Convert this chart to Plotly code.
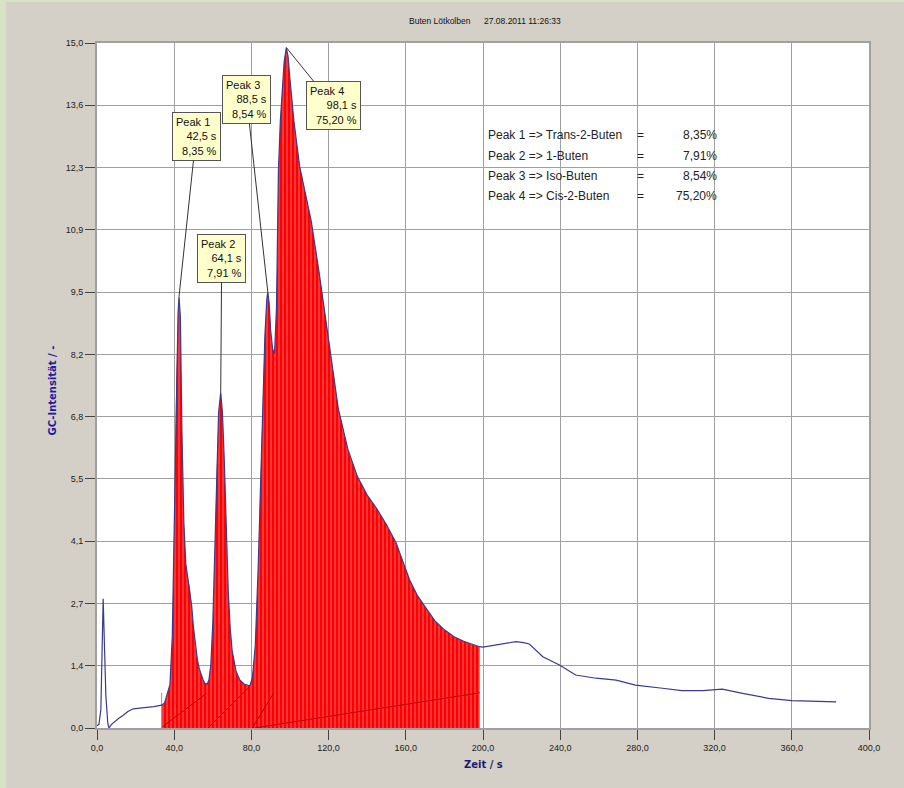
import numpy as np
import plotly.graph_objects as go

# ---------------- data ----------------
time_s = [0, 1.0, 2.0, 2.6, 3.2, 3.8, 4.6, 5.6, 6.2, 7.5, 9.3, 11.5, 13.6, 16, 18.8, 22, 25.7,
          29.5, 32, 33.5, 35, 36.5, 37.8, 39, 40, 41, 42, 42.5, 43.2, 44, 45, 46, 47, 48, 49,
          50, 51, 52, 53, 54, 55, 56, 57, 58, 59, 60, 61, 62, 63, 64.1, 65, 66, 67, 68, 69,
          70, 72, 74, 76, 78, 79.2, 80.5, 82, 83.5, 85, 86, 87, 88, 88.5, 89.2, 90, 91, 92,
          93, 94, 95, 96, 97, 98.1, 99, 100, 102, 105, 108, 111, 115, 119.6, 125, 130, 135,
          140, 145, 150, 155, 158, 162, 166, 170, 175, 180, 185, 190, 195, 198.3, 200, 207,
          212, 217, 221, 224, 231, 239.6, 248, 258.6, 269, 279, 293, 303, 314, 324, 334.5,
          348, 360, 372, 383]
intensity = [0.05, 0.08, 0.4, 1.8, 2.83, 1.9, 0.7, 0.1, 0.0, 0.08, 0.15, 0.22, 0.28, 0.36, 0.42,
             0.44, 0.45, 0.47, 0.48, 0.5, 0.55, 0.75, 0.95, 2.0, 4.5, 7.5, 9.1, 9.45, 9.0, 6.5,
             4.5, 3.6, 3.3, 3.1, 2.7, 2.2, 1.8, 1.5, 1.3, 1.15, 1.05, 0.98, 0.96, 1.05, 1.4, 2.3,
             3.8, 5.6, 6.9, 7.35, 6.9, 5.8, 4.3, 3.0, 2.2, 1.7, 1.25, 1.05, 0.97, 0.93, 0.92,
             1.1, 1.8, 3.5, 5.8, 7.3, 8.6, 9.4, 9.55, 9.3, 8.7, 8.3, 8.2, 9.2, 12.2, 13.3, 14.0,
             14.6, 14.9, 14.7, 14.2, 13.3, 12.3, 11.7, 11.1, 10.0, 8.65, 7.0, 6.1, 5.5, 5.1,
             4.8, 4.45, 4.05, 3.7, 3.24, 2.9, 2.65, 2.35, 2.15, 2.0, 1.9, 1.82, 1.78, 1.77,
             1.82, 1.87, 1.89, 1.87, 1.84, 1.56, 1.38, 1.16, 1.09, 1.05, 0.94, 0.87, 0.82,
             0.82, 0.85, 0.76, 0.65, 0.6, 0.58, 0.57]

integration_start = 33.5
integration_end = 198.3
integration_marker_height = 0.77

peak_names = ["Peak 1", "Peak 2", "Peak 3", "Peak 4"]
peak_times = [42.5, 64.1, 88.5, 98.1]
peak_heights = [9.45, 7.35, 9.55, 14.9]
peak_time_labels = ["42,5 s", "64,1 s", "88,5 s", "98,1 s"]
peak_percent_labels = ["8,35 %", "7,91 %", "8,54 %", "75,20 %"]
components = ["Trans-2-Buten", "1-Buten", "Iso-Buten", "Cis-2-Buten"]
component_percent = ["8,35%", "7,91%", "8,54%", "75,20%"]

baseline_x = [[34.0, 56.8], [57.5, 79.0], [80.5, 91.6], [81.6, 198.2]]
baseline_y = [[0.03, 0.76], [0.0, 0.9], [0.0, 0.77], [0.0, 0.77]]

x_tick_vals = [0, 40, 80, 120, 160, 200, 240, 280, 320, 360, 400]
x_tick_text = ["0,0", "40,0", "80,0", "120,0", "160,0", "200,0", "240,0", "280,0", "320,0",
               "360,0", "400,0"]
y_tick_vals = [0, 1.364, 2.727, 4.091, 5.455, 6.818, 8.182, 9.545, 10.909, 12.273, 13.636, 15.0]
y_tick_text = ["0,0", "1,4", "2,7", "4,1", "5,5", "6,8", "8,2", "9,5", "10,9", "12,3", "13,6",
               "15,0"]

chart_title = "Buten Lötkolben"
chart_timestamp = "27.08.2011 11:26:33"

# ---------------- figure ----------------
t = np.array(time_s)
v = np.array(intensity)
mask = (t >= integration_start) & (t <= integration_end)

fig = go.Figure()

# red integrated area with vertical stripes
fig.add_trace(go.Scatter(
    x=t[mask], y=v[mask], mode="none", fill="tozeroy",
    fillcolor="#ff0000",
    fillpattern=dict(shape="|", bgcolor="#ff0000", fgcolor="#f4b0b0", size=4, solidity=0.3),
    hoverinfo="skip", showlegend=False))

# integration start marker
fig.add_trace(go.Scatter(
    x=[integration_start, integration_start], y=[0, integration_marker_height],
    mode="lines", line=dict(color="#c08080", width=1), showlegend=False, hoverinfo="skip"))

# baselines
for bx, by in zip(baseline_x, baseline_y):
    fig.add_trace(go.Scatter(x=bx, y=by, mode="lines", line=dict(color="#b00000", width=1),
                             showlegend=False, hoverinfo="skip"))

# chromatogram line
fig.add_trace(go.Scatter(x=time_s, y=intensity, mode="lines",
                         line=dict(color="#3a3a8e", width=1.2), showlegend=False))

ann_font = dict(family="Liberation Sans, Arial, sans-serif", size=11, color="#111111")
box_offsets = [(17, -160), (1, -134), (-21, -192), (47, 58)]
annotations = []
for name, pt, ph, tl, pl, (ax, ay) in zip(peak_names, peak_times, peak_heights,
                                         peak_time_labels, peak_percent_labels, box_offsets):
    pad = "&nbsp;" * (2 if len(pl) < 7 else 4)
    annotations.append(dict(
        x=pt, y=ph, xref="x", yref="y", ax=ax, ay=ay, axref="pixel", ayref="pixel",
        text=f"{name}{pad}<br>{tl}<br>{pl}", align="right", showarrow=True,
        arrowhead=0, arrowwidth=1, arrowcolor="#333333", standoff=0,
        bgcolor="#ffffcc", bordercolor="#555555", borderwidth=1, borderpad=3,
        font=ann_font))

leg_font = dict(family="Liberation Sans, Arial, sans-serif", size=12, color="#222222")
line_y = [12.99, 12.52, 12.08, 11.65]
for i, (name, comp, pc) in enumerate(zip(peak_names, components, component_percent)):
    annotations.append(dict(x=201.8, y=line_y[i], xref="x", yref="y", xanchor="left",
                            yanchor="middle", text=f"{name} => {comp}", showarrow=False,
                            font=leg_font))
    annotations.append(dict(x=281.5, y=line_y[i], xref="x", yref="y", xanchor="center",
                            yanchor="middle", text="=", showarrow=False, font=leg_font))
    annotations.append(dict(x=322.5, y=line_y[i], xref="x", yref="y", xanchor="right",
                            yanchor="middle", text=pc, showarrow=False, font=leg_font))

title_font = dict(family="Liberation Sans, Arial, sans-serif", size=8.5, color="#111111")
annotations.append(dict(x=0.444, y=1.032, xref="paper", yref="paper", showarrow=False,
                        xanchor="center", yanchor="middle", text=chart_title, font=title_font))
annotations.append(dict(x=0.551, y=1.032, xref="paper", yref="paper", showarrow=False,
                        xanchor="center", yanchor="middle", text=chart_timestamp,
                        font=title_font))
# axis titles
annotations.append(dict(x=-0.058, y=0.493, xref="paper", yref="paper", showarrow=False,
                        xanchor="center", yanchor="middle",
                        textangle=-90, text="<b>GC-Intensität / -</b>",
                        font=dict(family="DejaVu Sans, sans-serif", size=10, color="#1c1c9c")))
annotations.append(dict(x=0.5, y=-0.054, xref="paper", yref="paper", showarrow=False,
                        xanchor="center", yanchor="middle",
                        text="<b>Zeit / s</b>",
                        font=dict(family="DejaVu Sans, sans-serif", size=10, color="#1c1c70")))

shapes = [
    dict(type="rect", xref="paper", yref="paper", x0=-0.1257, x1=-0.1179, y0=-0.09, y1=1.07,
         fillcolor="#d6e3c4", line=dict(width=0), layer="above"),
    dict(type="rect", xref="paper", yref="paper", x0=-0.1257, x1=1.05, y0=1.0599, y1=1.07,
         fillcolor="#d6e3c4", line=dict(width=0), layer="above"),
]

tick_font = dict(family="Liberation Sans, Arial, sans-serif", size=9, color="#222222")
fig.update_layout(
    width=904, height=788,
    margin=dict(l=97, r=35, t=43, b=60),
    paper_bgcolor="#d4d0c8", plot_bgcolor="#ffffff",
    showlegend=False,
    annotations=annotations, shapes=shapes,
    xaxis=dict(range=[0, 400], tickvals=x_tick_vals, ticktext=x_tick_text,
               showgrid=True, gridcolor="#a0a0a0", gridwidth=1, zeroline=False,
               showline=True, linecolor="#a0a0a0", linewidth=2, mirror=True,
               ticks="outside", ticklen=10, tickcolor="#444444", tickwidth=1,
               tickfont=tick_font),
    yaxis=dict(range=[0, 15], tickvals=y_tick_vals, ticktext=y_tick_text,
               showgrid=True, gridcolor="#a0a0a0", gridwidth=1, zeroline=False,
               showline=True, linecolor="#a0a0a0", linewidth=2, mirror=True,
               ticks="outside", ticklen=10, tickcolor="#444444", tickwidth=1,
               tickfont=tick_font),
)

fig.write_html("out.html",
               config={"displayModeBar": False},
               post_script="document.body.style.margin='0px';document.body.style.padding='0px';")
